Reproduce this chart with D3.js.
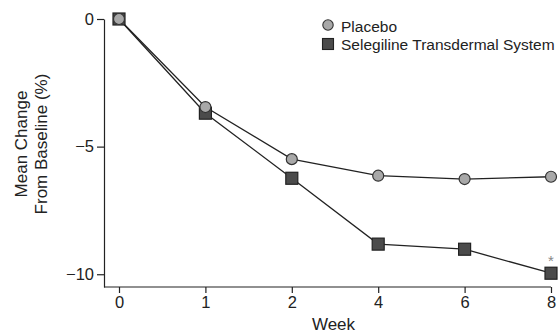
<!DOCTYPE html>
<html>
<head>
<meta charset="utf-8">
<script src="https://cdn.jsdelivr.net/npm/d3@7"></script>
<style>
  body { margin: 0; background: #fff; }
  svg { display: block; font-family: "Liberation Sans", Arial, Helvetica, sans-serif; }
  .axis path, .axis line { stroke: #222; stroke-width: 1.2; }
  .axis text { font-size: 16.5px; fill: #222; }
</style>
</head>
<body>
<div id="chart"></div>
<script>
// Weeks (categorical, evenly spaced)
var weeks = ['0', '1', '2', '4', '6', '8'];
// Mean change from baseline (%)
var placebo = [0, -3.45, -5.49, -6.14, -6.27, -6.18];
var selegiline = [0, -3.69, -6.24, -8.82, -9.02, -9.96];
var yTicks = [0, -5, -10];
var seriesNames = ['Placebo', 'Selegiline Transdermal System'];

var width = 558, height = 333;

var svg = d3.select('#chart')
    .append('svg')
    .attr('width', width)
    .attr('height', height);

// Scales
var axisX = 104;
var xScale = d3.scalePoint().domain(weeks).range([119, 551]);
var yScale = d3.scaleLinear().domain([-10.5, 0]).range([287, 19]);

// Y axis
var yAxisG = svg.append('g')
    .attr('class', 'axis')
    .attr('transform', 'translate(' + axisX + ',0)')
    .call(d3.axisLeft(yScale).tickValues(yTicks).tickSize(7).tickSizeOuter(0).tickPadding(3));

// X axis
var xAxisG = svg.append('g')
    .attr('class', 'axis')
    .attr('transform', 'translate(0,' + yScale.range()[0] + ')')
    .call(d3.axisBottom(xScale).tickSize(6).tickSizeOuter(0).tickPadding(3));
xAxisG.select('.domain')
    .attr('d', 'M' + axisX + ',0H' + xScale.range()[1]);

// Axis titles
svg.append('text')
    .attr('x', (axisX + xScale.range()[1]) / 2 + 6)
    .attr('y', 330)
    .attr('text-anchor', 'middle')
    .style('font-size', '17px')
    .style('fill', '#222')
    .text('Week');

var yTitle = svg.append('text')
    .attr('transform', 'translate(27,144) rotate(-90)')
    .attr('text-anchor', 'middle')
    .style('font-size', '17px')
    .style('fill', '#222');
yTitle.append('tspan').attr('x', 0).attr('y', 0).text('Mean Change');
yTitle.append('tspan').attr('x', 0).attr('y', 20).text('From Baseline (%)');

// Lines
var line = d3.line()
    .x(function(d, i) { return xScale(weeks[i]); })
    .y(function(d) { return yScale(d); });

svg.append('path')
    .datum(selegiline)
    .attr('d', line)
    .attr('fill', 'none')
    .attr('stroke', '#222')
    .attr('stroke-width', 1.3);

svg.append('path')
    .datum(placebo)
    .attr('d', line)
    .attr('fill', 'none')
    .attr('stroke', '#222')
    .attr('stroke-width', 1.3);

// Markers: squares first so circles sit on top
var sq = 12;
svg.selectAll('rect.sts')
    .data(selegiline)
    .enter().append('rect')
    .attr('class', 'sts')
    .attr('x', function(d, i) { return xScale(weeks[i]) - sq / 2; })
    .attr('y', function(d) { return yScale(d) - sq / 2; })
    .attr('width', sq)
    .attr('height', sq)
    .attr('fill', '#4b4b4b')
    .attr('stroke', '#222')
    .attr('stroke-width', 1.2);

svg.selectAll('circle.pbo')
    .data(placebo)
    .enter().append('circle')
    .attr('class', 'pbo')
    .attr('cx', function(d, i) { return xScale(weeks[i]); })
    .attr('cy', function(d) { return yScale(d); })
    .attr('r', 5.5)
    .attr('fill', '#a8a8a8')
    .attr('stroke', '#333')
    .attr('stroke-width', 1.2);

// Significance marker at week 8
var last = selegiline.length - 1;
svg.append('text')
    .attr('x', xScale(weeks[last]))
    .attr('y', yScale(selegiline[last]) - 7)
    .attr('text-anchor', 'middle')
    .style('font-size', '15px')
    .style('fill', '#888')
    .text('*');

// Legend
var legend = svg.append('g').attr('transform', 'translate(328,25)');
legend.append('circle')
    .attr('cx', 0).attr('cy', 0).attr('r', 5.2)
    .attr('fill', '#a8a8a8').attr('stroke', '#333').attr('stroke-width', 1.1);
legend.append('rect')
    .attr('x', -5.5).attr('y', 13.5).attr('width', 11).attr('height', 11)
    .attr('fill', '#4b4b4b').attr('stroke', '#222').attr('stroke-width', 1.1);
legend.selectAll('text')
    .data(seriesNames)
    .enter().append('text')
    .attr('x', 13)
    .attr('y', function(d, i) { return 6.5 + i * 18.5; })
    .style('font-size', '15.5px')
    .style('fill', '#222')
    .text(function(d) { return d; });
</script>
</body>
</html>
